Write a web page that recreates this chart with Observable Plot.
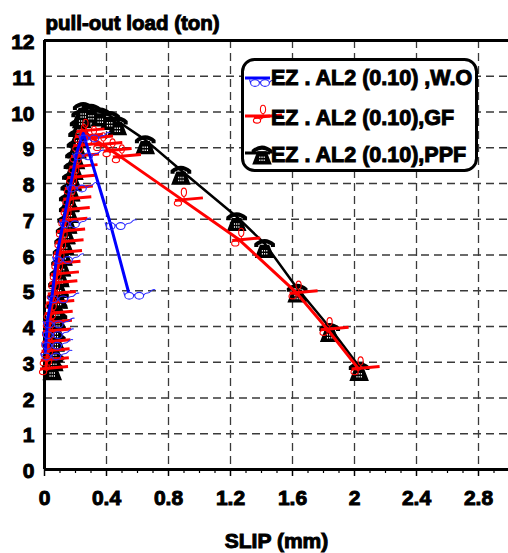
<!DOCTYPE html>
<html>
<head>
<meta charset="utf-8">
<script src="https://cdn.jsdelivr.net/npm/d3@7"></script>
<script src="https://cdn.jsdelivr.net/npm/@observablehq/plot@0.6"></script>
<style>
  html, body { margin: 0; padding: 0; background: #fff; }
  #wrap { position: relative; width: 508px; height: 553px; overflow: hidden; }
  #legend { position: absolute; left: 241px; top: 58px; }
  #chart text, #legend text { paint-order: stroke; stroke: #000; stroke-width: 1px; }
</style>
</head>
<body>
<div id="wrap"><div id="chart"></div><svg id="legend" width="238" height="116"></svg></div>
<script>
// ---- data ----
const seriesNames = ["EZ . AL2 (0.10) ,W.O", "EZ . AL2 (0.10),GF", "EZ . AL2 (0.10),PPF"];

const woX = [0.005, 0.01, 0.015, 0.02, 0.05, 0.08, 0.125, 0.17, 0.21, 0.25, 0.42, 0.54];
const woY = [3.3, 3.6, 3.9, 4.2, 4.9, 6.0, 7.0, 8.0, 8.9, 9.4, 6.95, 5.0];

const gfX = [0.01, 0.015, 0.02, 0.025, 0.03, 0.035, 0.04, 0.05, 0.06, 0.07, 0.08, 0.09, 0.1, 0.11, 0.12, 0.135, 0.15, 0.16, 0.17, 0.185, 0.2, 0.21, 0.225, 0.235,
             0.245, 0.3, 0.36, 0.42, 0.48, 0.88, 1.25, 1.62, 1.82, 2.02];
const gfY = [2.85, 3.1, 3.35, 3.6, 3.9, 4.15, 4.4, 4.7, 4.95, 5.25, 5.5, 5.8, 6.1, 6.4, 6.7, 7.0, 7.3, 7.6, 7.9, 8.2, 8.5, 8.8, 9.1, 9.35,
             9.5, 9.3, 9.12, 8.95, 8.78, 7.57, 6.45, 4.97, 3.95, 2.85];

const ppfX = [0.05, 0.06, 0.06, 0.07, 0.07, 0.08, 0.08, 0.09, 0.09, 0.1, 0.11, 0.12, 0.13, 0.14, 0.15, 0.16, 0.16, 0.17, 0.18, 0.19, 0.2, 0.21, 0.22, 0.23, 0.24,
              0.25, 0.3, 0.36, 0.42, 0.47, 0.65, 0.88, 1.24, 1.42, 1.63, 1.84, 2.03];
const ppfY = [2.9, 3.15, 3.4, 3.7, 4.0, 4.3, 4.6, 4.9, 5.2, 5.5, 5.8, 6.1, 6.4, 6.7, 7.0, 7.3, 7.6, 7.9, 8.2, 8.5, 8.8, 9.1, 9.4, 9.7, 9.95,
              10.15, 10.1, 10.0, 9.9, 9.75, 9.22, 8.37, 7.07, 6.32, 5.07, 3.97, 2.88];

const xTicks = [0, 0.4, 0.8, 1.2, 1.6, 2, 2.4, 2.8];
const xTickLabels = ["0", "0.4", "0.8", "1.2", "1.6", "2", "2.4", "2.8"];
const xMinorTicks = [0.1, 0.2, 0.3, 0.5, 0.6, 0.7, 0.9, 1.0, 1.1, 1.3, 1.4, 1.5, 1.7, 1.8, 1.9, 2.1, 2.2, 2.3, 2.5, 2.6, 2.7, 2.9];
const yTicks = [0, 1, 2, 3, 4, 5, 6, 7, 8, 9, 10, 11, 12];
const xGrid = [0.4, 0.8, 1.2, 1.6, 2, 2.4, 2.8];
const yGrid = [1, 2, 3, 4, 5, 6, 7, 8, 9, 10, 11];

const toRows = (xs, ys) => xs.map((x, i) => ({x, y: ys[i]}));
const wo = toRows(woX, woY);
const gf = toRows(gfX, gfY);
const ppf = toRows(ppfX, ppfY);

// ---- picture-marker symbols ----
function ellipse(c, cx, cy, rx, ry) {
  const k = 0.5523;
  c.moveTo(cx + rx, cy);
  c.bezierCurveTo(cx + rx, cy + ry * k, cx + rx * k, cy + ry, cx, cy + ry);
  c.bezierCurveTo(cx - rx * k, cy + ry, cx - rx, cy + ry * k, cx - rx, cy);
  c.bezierCurveTo(cx - rx, cy - ry * k, cx - rx * k, cy - ry, cx, cy - ry);
  c.bezierCurveTo(cx + rx * k, cy - ry, cx + rx, cy - ry * k, cx + rx, cy);
}
const S = 1.15;
const phone = {draw(c) {
  const m = (x, y) => c.moveTo(x * S, y * S), l = (x, y) => c.lineTo(x * S, y * S),
        q = (a, b, x, y) => c.quadraticCurveTo(a * S, b * S, x * S, y * S);
  // handset
  m(-9, 3); l(-9, 0); q(0, -8, 9, 0); l(9, 3);
  l(5.5, 3); l(5.5, 1.5); q(0, -2, -5.5, 1.5); l(-5.5, 3); c.closePath();
  // body
  m(-4, 1); l(4, 1); l(8.5, 12.5); l(-8.5, 12.5); c.closePath();
}};
const dial = {draw(c) {
  for (const dx of [-2.2, 0, 2.2]) for (const dy of [6.5, 9.5]) {
    c.moveTo(dx - 0.55, dy); c.lineTo(dx + 0.55, dy); c.lineTo(dx + 0.55, dy + 1.5); c.lineTo(dx - 0.55, dy + 1.5); c.closePath();
  }
}};
const scissorsLoops = {draw(c) {
  ellipse(c, 3, -6.5, 2.6, 4.2);
  ellipse(c, -3, 4.5, 3.6, 2.6);
  c.moveTo(3, -2.3); c.lineTo(3.5, 1);
  c.moveTo(0.4, 3.5); c.lineTo(3.5, 1);
}};
const scissorsBlade = {draw(c) {
  c.moveTo(-6, 1.5); c.lineTo(22, -1);
}};
const glasses = {draw(c) {
  ellipse(c, 1, 5, 4.4, 3.4);
  ellipse(c, 11, 5, 4.4, 3.4);
  c.moveTo(5.4, 4.5); c.quadraticCurveTo(6, 3, 6.6, 4.5);
  c.moveTo(-3.4, 5); c.lineTo(-4.5, 1.5);
  c.moveTo(15.4, 4.5); c.bezierCurveTo(18, 0, 20, 4, 22, 1); c.quadraticCurveTo(24, -2, 27, -1);
}};

const font = "'Liberation Sans', Arial, Helvetica, sans-serif";
const gridStyle = {stroke: "#3a3a3a", strokeOpacity: 1, strokeDasharray: "8,5", strokeWidth: 1.3};

const chart = Plot.plot({
  width: 508,
  height: 553,
  marginTop: 40,
  marginLeft: 44,
  marginRight: 0,
  marginBottom: 84,
  x: {domain: [0, 3], range: [44, 509], label: null},
  y: {domain: [0, 12], range: [469, 40], label: null},
  style: {fontFamily: font, fontWeight: "bold", fontSize: "21px", background: "white", color: "black", overflow: "visible"},
  marks: [
    Plot.gridX(xGrid, gridStyle),
    Plot.gridY(yGrid, gridStyle),
    Plot.axisX(xMinorTicks, {tickSize: 4, tickFormat: () => "", label: null, strokeWidth: 1.2}),
    Plot.axisX(xTicks, {tickSize: 7, tickPadding: 14, label: null, strokeWidth: 1.5,
      tickFormat: d => xTickLabels[xTicks.indexOf(d)], fontSize: 21, fontWeight: "bold"}),
    Plot.axisY(yTicks, {tickSize: 0, tickPadding: 10, label: null, dy: 2,
      tickFormat: d => String(d), fontSize: 21, fontWeight: "bold"}),
    Plot.ruleX([0], {strokeWidth: 3, stroke: "black"}),
    Plot.ruleY([0, 12], {strokeWidth: 3, stroke: "black"}),
    // PPF (black, telephones)
    Plot.line(ppf, {x: "x", y: "y", stroke: "black", strokeWidth: 2.5}),
    Plot.dot(ppf, {x: "x", y: "y", symbol: phone, fill: "black", stroke: "none", r: 8}),
    Plot.dot(ppf, {x: "x", y: "y", symbol: dial, fill: "white", stroke: "none", r: 2}),
    // GF (red, scissors)
    Plot.line(gf, {x: "x", y: "y", stroke: "#ff0000", strokeWidth: 3}),
    Plot.dot(gf, {x: "x", y: "y", symbol: scissorsBlade, stroke: "#ff0000", fill: "none", strokeWidth: 3, r: 8}),
    Plot.dot(gf, {x: "x", y: "y", symbol: scissorsLoops, stroke: "#ff0000", fill: "none", strokeWidth: 1.1, r: 8}),
    // W.O (blue, glasses)
    Plot.line(wo, {x: "x", y: "y", stroke: "#0000ff", strokeWidth: 3}),
    Plot.dot(wo, {x: "x", y: "y", symbol: glasses, stroke: "#2a2aff", fill: "none", strokeWidth: 1.1, r: 8}),
    // titles
    Plot.text(["pull-out load (ton)"], {frameAnchor: "top-left", textAnchor: "start", lineAnchor: "bottom",
      dx: 1, dy: -11, fontSize: 20.5, fontWeight: "bold", fill: "black"}),
    Plot.text(["SLIP (mm)"], {frameAnchor: "bottom", lineAnchor: "bottom", dy: 78,
      fontSize: 21, fontWeight: "bold", fill: "black"})
  ]
});
document.getElementById("chart").appendChild(chart);

// ---- legend ----
const lg = d3.select("#legend");
const symPath = (sym) => { const p = d3.path(); sym.draw(p); return p.toString(); };
lg.append("rect").attr("x", 1.5).attr("y", 1.5).attr("width", 234).attr("height", 111)
  .attr("rx", 12).attr("fill", "white").attr("stroke", "black").attr("stroke-width", 3);
const rows = [
  {name: seriesNames[0], y: 20, color: "#0000ff"},
  {name: seriesNames[1], y: 58, color: "#ff0000"},
  {name: seriesNames[2], y: 95, color: "black"}
];
rows.forEach((r, i) => {
  lg.append("line").attr("x1", 4).attr("x2", 29).attr("y1", r.y).attr("y2", r.y)
    .attr("stroke", r.color).attr("stroke-width", 3);
  if (i === 0) {
    lg.append("path").attr("d", symPath(glasses)).attr("transform", `translate(13,${r.y})`)
      .attr("fill", "none").attr("stroke", "#2a2aff").attr("stroke-width", 1.1);
  } else if (i === 1) {
    lg.append("path").attr("d", symPath(scissorsBlade)).attr("transform", `translate(19,${r.y})`)
      .attr("fill", "none").attr("stroke", "#ff0000").attr("stroke-width", 3);
    lg.append("path").attr("d", symPath(scissorsLoops)).attr("transform", `translate(19,${r.y})`)
      .attr("fill", "none").attr("stroke", "#ff0000").attr("stroke-width", 1.1);
  } else {
    lg.append("path").attr("d", symPath(phone)).attr("transform", `translate(21,${r.y - 3})`).attr("fill", "black");
    lg.append("path").attr("d", symPath(dial)).attr("transform", `translate(21,${r.y - 3})`).attr("fill", "white");
  }
  lg.append("text").attr("x", 30).attr("y", r.y + 7 + (i === 0 ? 0 : 2))
    .attr("font-family", font).attr("font-weight", "bold").attr("font-size", 21.5)
    .attr("fill", "black").text(r.name);
});
</script>
</body>
</html>
